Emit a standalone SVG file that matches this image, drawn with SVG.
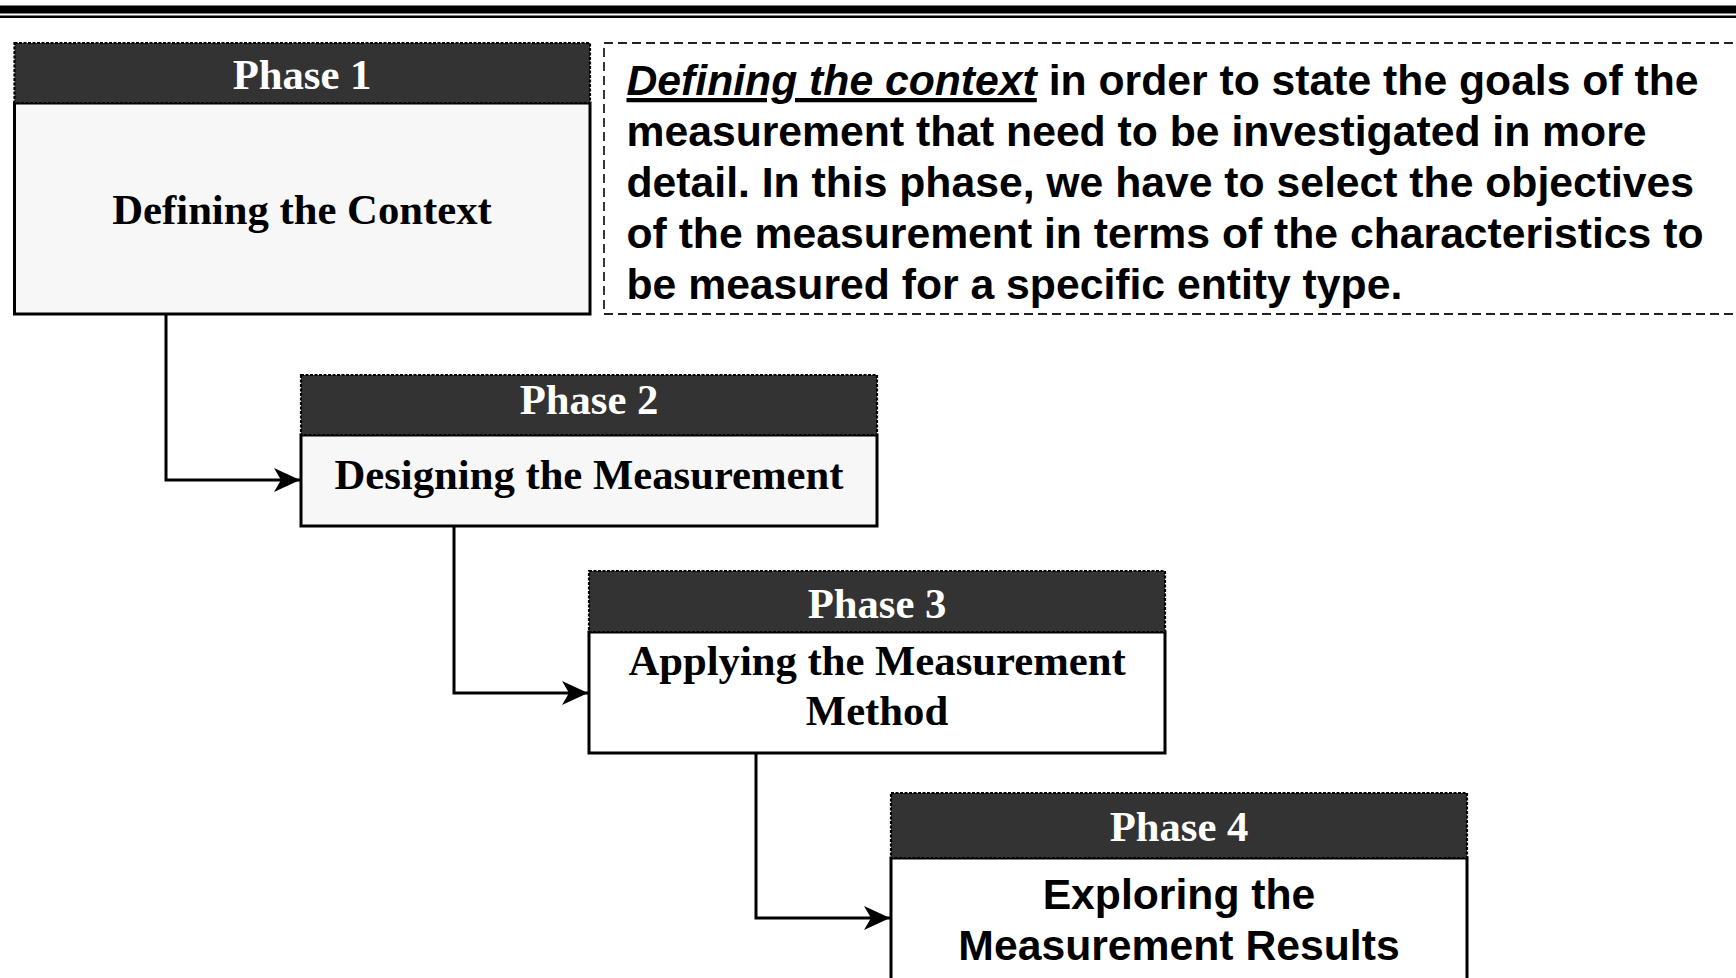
<svg xmlns="http://www.w3.org/2000/svg" width="1736" height="978" viewBox="0 0 1736 978">
<defs>
<style>
.hdr{fill:#333333;stroke:#000;stroke-width:2.2;stroke-dasharray:3 1.5}
.body{stroke:#000;stroke-width:3}
.ht{font-family:"Liberation Serif","Times New Roman",serif;font-weight:bold;font-size:42.7px;fill:#fff;text-anchor:middle}
.bt{font-family:"Liberation Serif","Times New Roman",serif;font-weight:bold;font-size:42.7px;fill:#000;text-anchor:middle}
.st{font-family:"Liberation Sans",Arial,sans-serif;font-weight:bold;font-size:42.7px;fill:#000}
.conn{fill:none;stroke:#000;stroke-width:3}
</style>
<marker id="arr" markerUnits="userSpaceOnUse" markerWidth="28" markerHeight="26" refX="26" refY="13" orient="auto">
<path d="M0,1 L26,13 L0,25 L7,13 z" fill="#000"/>
</marker>
</defs>
<rect width="1736" height="978" fill="#fff"/>
<rect x="0" y="5.5" width="1736" height="8" fill="#000"/>
<rect x="0" y="15.5" width="1736" height="2.5" fill="#000"/>

<g id="connectors">
<path class="conn" d="M166,314 V480 H300" marker-end="url(#arr)"/>
<path class="conn" d="M454,526 V693 H588" marker-end="url(#arr)"/>
<path class="conn" d="M756,753 V918 H890" marker-end="url(#arr)"/>
</g>

<g id="phase1">
<path class="body" fill="#f7f7f7" d="M14.5,103 V314 H590 V103 Z"/>
<rect class="hdr" x="14.5" y="43" width="575.5" height="60"/>
<text class="ht" x="302" y="88.5">Phase 1</text>
<text class="bt" x="302" y="223.5">Defining the Context</text>
</g>

<g id="description">
<rect x="604" y="43" width="1150" height="271" fill="#fff" stroke="#222" stroke-width="1.8" stroke-dasharray="9 5"/>
<text class="st" x="626.5" y="95"><tspan font-style="italic" text-decoration="underline">Defining the context</tspan> in order to state the goals of the</text>
<text class="st" x="626.5" y="146">measurement that need to be investigated in more</text>
<text class="st" x="626.5" y="197">detail. In this phase, we have to select the objectives</text>
<text class="st" x="626.5" y="248">of the measurement in terms of the characteristics to</text>
<text class="st" x="626.5" y="299">be measured for a specific entity type.</text>
</g>

<g id="phase2">
<path class="body" fill="#f7f7f7" d="M301,435 V526 H877 V435 Z"/>
<rect class="hdr" x="301" y="375" width="576" height="60"/>
<text class="ht" x="589" y="413.5">Phase 2</text>
<text class="bt" x="589" y="489">Designing the Measurement</text>
</g>

<g id="phase3">
<path class="body" fill="#fff" d="M589,632 V753 H1165 V632 Z"/>
<rect class="hdr" x="589" y="571" width="576" height="61"/>
<text class="ht" x="877" y="618">Phase 3</text>
<text class="bt" x="877" y="675">Applying the Measurement</text>
<text class="bt" x="877" y="725">Method</text>
</g>

<g id="phase4">
<path class="body" fill="#fff" d="M891,858 V995 H1467 V858 Z"/>
<rect class="hdr" x="891" y="793" width="576" height="65"/>
<text class="ht" x="1179" y="841">Phase 4</text>
<text class="st" x="1179" y="909" text-anchor="middle">Exploring the</text>
<text class="st" x="1179" y="960" text-anchor="middle">Measurement Results</text>
</g>
</svg>
